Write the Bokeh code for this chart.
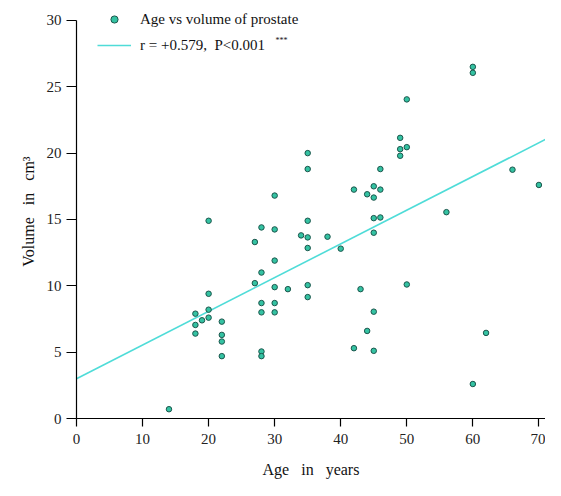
from bokeh.plotting import figure
from bokeh.models import FixedTicker, Legend, LegendItem, Label, Range1d
from bokeh.embed import file_html
from bokeh.resources import INLINE

# data
age = [14, 18, 18, 18, 19, 20, 20, 20, 20, 22, 22, 22, 22,
       27, 27, 28, 28, 28, 28, 28, 28, 30, 30, 30, 30, 30, 30,
       32, 34, 35, 35, 35, 35, 35, 35, 35, 38, 40, 42, 42, 43,
       44, 44, 45, 45, 45, 45, 45, 45, 46, 46, 46, 49, 49, 49,
       50, 50, 50, 56, 60, 60, 60, 62, 66, 70]
volume = [0.7, 7.9, 7.05, 6.4, 7.4, 9.4, 8.2, 7.6, 14.9, 7.3, 6.3, 5.8, 4.7,
          10.2, 13.3, 11.0, 8.7, 8.0, 5.05, 4.7, 14.4, 11.9, 9.9, 8.7, 8.0, 16.8, 14.25,
          9.75, 13.8, 12.85, 10.05, 9.15, 20.0, 18.8, 13.65, 14.9, 13.7, 12.8, 17.25, 5.3, 9.75,
          16.9, 6.6, 17.5, 16.65, 15.1, 14.0, 8.05, 5.1, 18.8, 17.25, 15.15, 21.15, 20.3, 19.8,
          24.05, 20.45, 10.1, 15.55, 26.5, 26.05, 2.6, 6.45, 18.75, 17.6]
fit_intercept = 3.0
fit_slope = 0.254
x_ticks = [0, 10, 20, 30, 40, 50, 60, 70]
y_ticks = [0, 5, 10, 15, 20, 25, 30]
series_label = "Age vs volume of prostate"
fit_label = "r = +0.579,\u00a0 P<0.001"

FONT = "Liberation Serif"
NB = "\u00a0"
X_END = 71
Y_END = 31.2

p = figure(width=545, height=480, output_backend="svg", toolbar_location=None,
           x_range=Range1d(0, X_END), y_range=Range1d(0, Y_END),
           min_border_left=76, min_border_right=0, min_border_top=4, min_border_bottom=58)
p.outline_line_color = None
p.xgrid.visible = False
p.ygrid.visible = False
p.background_fill_color = "white"

for ax in (p.xaxis[0], p.yaxis[0]):
    ax.axis_line_color = "black"
    ax.axis_line_width = 1.2
    ax.major_tick_line_color = "black"
    ax.major_tick_line_width = 1.2
    ax.minor_tick_line_color = None
    ax.major_tick_in = 0
    ax.major_label_text_font = FONT
    ax.major_label_text_font_size = "15px"
    ax.major_label_text_color = "#222222"
    ax.axis_label_text_font = FONT
    ax.axis_label_text_font_size = "16px"
    ax.axis_label_text_font_style = "normal"
    ax.axis_label_text_color = "#111111"

p.yaxis[0].bounds = (0, 30)
p.xaxis[0].ticker = FixedTicker(ticks=x_ticks)
p.yaxis[0].ticker = FixedTicker(ticks=y_ticks)
p.xaxis[0].major_tick_out = 8
p.yaxis[0].major_tick_out = 10
p.xaxis[0].major_label_standoff = 7
p.yaxis[0].major_label_standoff = 5
p.xaxis[0].axis_label = "Age" + NB * 3 + "in" + NB * 3 + "years"
p.yaxis[0].axis_label = "Volume" + NB * 3 + "in" + NB * 3 + "cm³"
p.xaxis[0].axis_label_standoff = 14
p.yaxis[0].axis_label_standoff = 7

line_x = [0, X_END]
line_y = [fit_intercept + fit_slope * v for v in line_x]
ln = p.line(line_x, line_y, line_color="#4fdcd8", line_width=1.6)
sc = p.scatter(age, volume, size=5.5, marker="circle",
               fill_color="#34c2a2", line_color="#1b564c", line_width=1)

legend = Legend(items=[LegendItem(label=series_label, renderers=[sc]),
                       LegendItem(label=fit_label, renderers=[ln])],
                location=(21, 364), margin=0, padding=0, spacing=8,
                glyph_width=34, glyph_height=18, label_height=18,
                label_standoff=9, border_line_color=None,
                background_fill_alpha=0,
                label_text_font=FONT, label_text_font_size="15px",
                label_text_color="#111111")
p.add_layout(legend, "center")

stars = Label(x=199, y=378, x_units="screen", y_units="screen", text="***",
              text_font=FONT, text_font_size="8px", text_baseline="middle",
              text_color="#111111")
p.add_layout(stars)

open("out.html", "w").write(file_html(p, INLINE))
